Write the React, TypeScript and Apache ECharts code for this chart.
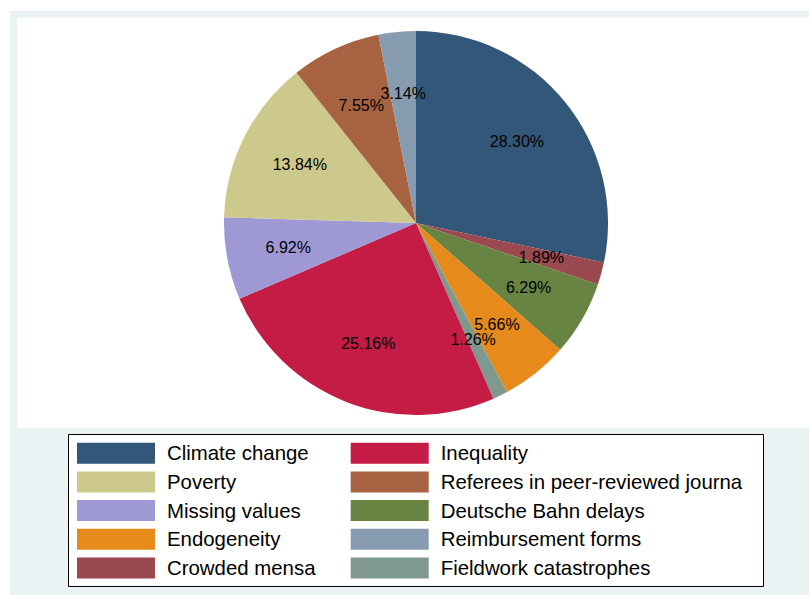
import React, { useEffect, useRef } from "react";
import * as echarts from "echarts";

const categories = [
  "Climate change",
  "Crowded mensa",
  "Deutsche Bahn delays",
  "Endogeneity",
  "Fieldwork catastrophes",
  "Inequality",
  "Missing values",
  "Poverty",
  "Referees in peer-reviewed journa",
  "Reimbursement forms",
];
const percents = [28.3, 1.89, 6.29, 5.66, 1.26, 25.16, 6.92, 13.84, 7.55, 3.14];
const colors = [
  "#325779",
  "#9A494F",
  "#688443",
  "#E58A1B",
  "#7F998F",
  "#C41C45",
  "#9E98D5",
  "#CDC98C",
  "#A76341",
  "#879CB1",
];
const legendCol1 = ["Climate change", "Poverty", "Missing values", "Endogeneity", "Crowded mensa"];
const legendCol2 = [
  "Inequality",
  "Referees in peer-reviewed journa",
  "Deutsche Bahn delays",
  "Reimbursement forms",
  "Fieldwork catastrophes",
];

const FONT = "'Liberation Sans', Arial, Helvetica, sans-serif";

export default function App() {
  const ref = useRef<HTMLDivElement>(null);
  useEffect(() => {
    document.body.style.margin = "0";
    const chart = echarts.init(ref.current!, null, { renderer: "svg" });
    const data = categories.map((name, i) => ({
      name,
      value: percents[i],
      itemStyle: { color: colors[i] },
    }));
    const legendBase = {
      orient: "vertical" as const,
      icon: "rect",
      itemWidth: 78,
      itemHeight: 21,
      itemGap: 7.7,
      padding: 0,
      selectedMode: false,
      textStyle: { fontSize: 20.4, color: "#000", fontFamily: FONT, padding: [0, 0, 0, 7] },
    };
    chart.setOption({
      animation: false,
      backgroundColor: "#ffffff",
      graphic: [
        {
          type: "rect",
          z: -10,
          shape: { x: 10, y: 11, width: 800, height: 584 },
          style: { fill: "#EAF2F3" },
          silent: true,
        },
        {
          type: "rect",
          z: -9,
          shape: { x: 17, y: 17.7, width: 792, height: 410 },
          style: { fill: "#ffffff" },
          silent: true,
        },
        {
          type: "rect",
          z: -8,
          shape: { x: 68.5, y: 434.5, width: 695, height: 152 },
          style: { fill: "#ffffff", stroke: "#000", lineWidth: 1 },
          silent: true,
        },
      ],
      legend: [
        { ...legendBase, left: 77, top: 442.7, data: legendCol1 },
        { ...legendBase, left: 350.7, top: 442.7, data: legendCol2 },
      ],
      series: [
        {
          type: "pie",
          center: [416, 223],
          radius: 192,
          startAngle: 90,
          clockwise: true,
          silent: true,
          label: { show: false },
          labelLine: { show: false },
          itemStyle: { borderWidth: 0 },
          data,
        },
        {
          type: "pie",
          center: [416, 223],
          radius: [62, 192],
          startAngle: 90,
          clockwise: true,
          silent: true,
          avoidLabelOverlap: false,
          labelLayout: { hideOverlap: false },
          itemStyle: { color: "rgba(0,0,0,0)", borderWidth: 0 },
          label: {
            show: true,
            position: "inside",
            fontSize: 16,
            color: "#000",
            fontFamily: FONT,
            formatter: (p: any) => p.value.toFixed(2) + "%",
          },
          labelLine: { show: false },
          data: categories.map((name, i) => ({ name: name + " ", value: percents[i] })),
        },
      ],
    });
    return () => chart.dispose();
  }, []);
  return <div ref={ref} style={{ width: 809, height: 595 }} />;
}
